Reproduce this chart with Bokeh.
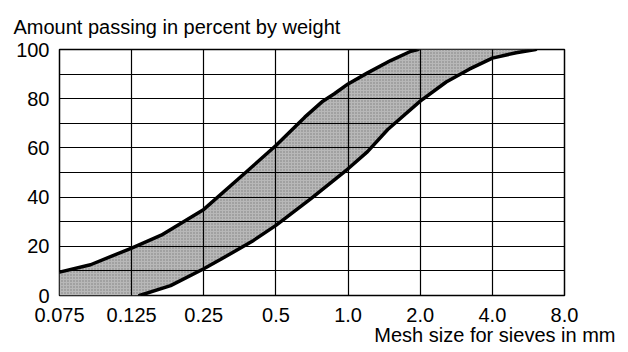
from bokeh.plotting import figure
from bokeh.models import Range1d, FixedTicker, Title
from bokeh.embed import file_html
from bokeh.resources import INLINE

# Sieve sizes (mm) shown on the x axis, equally spaced
sieve_labels = ["0.075", "0.125", "0.25", "0.5", "1.0", "2.0", "4.0", "8.0"]

# Upper (fine) grading limit: position along the sieve axis (sieve index), % passing
upper_pos = [0, 0.43, 1, 1.41, 2, 2.58, 3, 3.4, 3.65, 3.81, 4, 4.27, 4.59, 4.87, 4.97]
upper_pct = [9.5, 12.5, 19.3, 24.5, 35, 50, 61, 72.5, 79, 82, 86, 90.5, 95.5, 99.3, 100]

# Lower (coarse) grading limit
lower_pos = [1.11, 1.54, 2, 2.23, 2.69, 3, 3.49, 4, 4.27, 4.55, 5, 5.36, 5.68, 6, 6.33, 6.6]
lower_pct = [0, 4, 10.9, 14.6, 22.4, 28.5, 39.5, 51.5, 58.5, 67.5, 79, 86.8, 92, 96.5, 98.7, 100]

y_ticks = [0, 20, 40, 60, 80, 100]
y_grid = [0, 10, 20, 30, 40, 50, 60, 70, 80, 90, 100]

FONT = "Liberation Sans"

p = figure(width=620, height=350, frame_width=505, frame_height=246,
           min_border_left=59, min_border_right=56, min_border_top=49, min_border_bottom=54,
           x_range=Range1d(0, len(sieve_labels) - 1), y_range=Range1d(0, 100),
           output_backend="svg", toolbar_location=None)
p.background_fill_color = "white"
p.border_fill_color = "white"
p.outline_line_color = "black"
p.outline_line_width = 1.5

p.title.text = "Amount passing in percent by weight"
p.title.align = "left"
p.title.offset = -46
p.title.text_font = FONT
p.title.text_font_size = "20px"
p.title.text_font_style = "normal"
p.title.text_color = "black"
p.title.standoff = 24

# band between the limits (closed along the bottom and top edges)
band_x = upper_pos + [lower_pos[-1]] + lower_pos[::-1] + [upper_pos[0]]
band_y = upper_pct + [upper_pct[-1]] + lower_pct[::-1] + [0]
p.patch(band_x, band_y, fill_color="#b8b8b8", line_color=None,
        hatch_pattern=".", hatch_color="#555555", hatch_scale=3, hatch_alpha=0.6)

p.line(upper_pos, upper_pct, line_color="black", line_width=3.5, line_join="round", line_cap="round")
p.line(lower_pos, lower_pct, line_color="black", line_width=3.5, line_join="round", line_cap="round")

# axes
p.xaxis.ticker = FixedTicker(ticks=list(range(len(sieve_labels))))
p.xaxis.major_label_overrides = {i: s for i, s in enumerate(sieve_labels)}
p.yaxis.ticker = FixedTicker(ticks=y_ticks)
for ax in (p.xaxis[0], p.yaxis[0]):
    ax.axis_line_color = None
    ax.major_tick_line_color = None
    ax.minor_tick_line_color = None
    ax.major_tick_out = 0
    ax.major_tick_in = 0
    ax.major_label_text_font = FONT
    ax.major_label_text_font_size = "20px"
    ax.major_label_text_color = "black"
p.xaxis.major_label_standoff = 12
p.yaxis.major_label_standoff = 10

p.xgrid.ticker = FixedTicker(ticks=list(range(len(sieve_labels))))
p.ygrid.ticker = FixedTicker(ticks=y_grid)
for g in (p.xgrid[0], p.ygrid[0]):
    g.grid_line_color = "black"
    g.grid_line_width = 1.2
    g.grid_line_alpha = 1.0
    g.level = "overlay"

xlab = Title(text="Mesh size for sieves in mm", align="right", offset=-51,
             vertical_align="top", standoff=-1, text_font=FONT,
             text_font_size="20px", text_font_style="normal", text_color="black")
p.add_layout(xlab, "below")

open("out.html", "w").write(file_html(p, INLINE))
